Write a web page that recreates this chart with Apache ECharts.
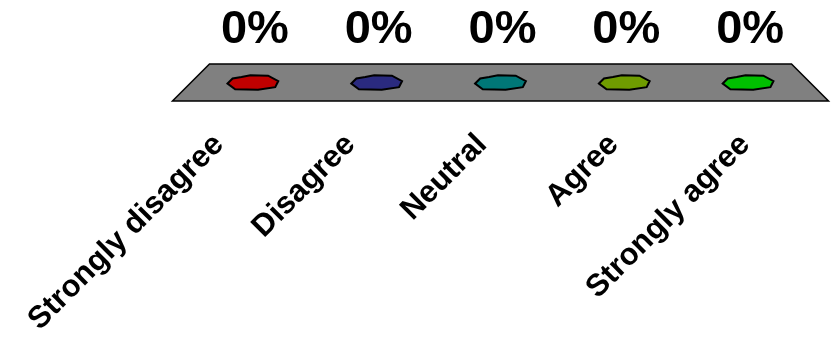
<!DOCTYPE html>
<html>
<head>
<meta charset="utf-8">
<style>
  html, body { margin: 0; padding: 0; background: #ffffff; }
  #chart { width: 834px; height: 338px; }
</style>
<script src="https://cdn.jsdelivr.net/npm/echarts@6/dist/echarts.min.js"></script>
</head>
<body>
<div id="chart"></div>
<script>
// Response categories and their share of answers (percent)
var categories = ['Strongly disagree', 'Disagree', 'Neutral', 'Agree', 'Strongly agree'];
var percentages = [0, 0, 0, 0, 0];
var barColors = ['#c00000', '#2a2a7f', '#007777', '#6f9c00', '#00c000'];

// Outline of a zero-height bar's cap, in units of its half-width / half-height
var capOutline = [
  [-1, 0.15], [-0.8, -0.55], [-0.45, -0.75], [-0.1, -1], [0.6, -0.95],
  [1, -0.2], [0.88, 0.65], [0.2, 1], [-0.7, 0.95]
];

var chart = echarts.init(document.getElementById('chart'), null, { renderer: 'canvas' });

var fontFamily = 'Arial, "Liberation Sans", Helvetica, sans-serif';

chart.setOption({
  backgroundColor: '#ffffff',
  animation: false,
  grid: [
    { left: 191, width: 619, top: 64, height: 37 },
    { left: 153, width: 658, top: 100, height: 33 }
  ],
  xAxis: [
    {
      type: 'category', gridIndex: 0, data: categories,
      axisLine: { show: false }, axisTick: { show: false }, axisLabel: { show: false },
      splitLine: { show: false }
    },
    {
      type: 'category', gridIndex: 1, data: categories,
      axisLine: { show: false }, axisTick: { show: false }, splitLine: { show: false },
      axisLabel: {
        interval: 0, rotate: 45, margin: 8,
        color: '#000000', fontFamily: fontFamily, fontWeight: 'bold', fontSize: 31
      }
    }
  ],
  yAxis: [
    { type: 'value', gridIndex: 0, min: -1, max: 1, show: false },
    { type: 'value', gridIndex: 1, min: 0, max: 1, show: false }
  ],
  series: [
    {
      // the gray floor of the 3-D plot area
      type: 'custom',
      xAxisIndex: 0, yAxisIndex: 0,
      data: [0],
      silent: true,
      z: 1,
      renderItem: function (params, api) {
        var cs = params.coordSys;
        var inset = cs.height * 0.5;
        return {
          type: 'polygon',
          shape: {
            points: [
              [cs.x + inset, cs.y],
              [cs.x + cs.width - inset, cs.y],
              [cs.x + cs.width + inset, cs.y + cs.height],
              [cs.x - inset, cs.y + cs.height]
            ]
          },
          style: { fill: '#808080', stroke: '#000000', lineWidth: 1.5 }
        };
      }
    },
    {
      // bars: at 0% only the flat cap on the floor remains, with its value above
      type: 'custom',
      xAxisIndex: 0, yAxisIndex: 0,
      data: percentages.map(function (v, i) { return [i, v]; }),
      z: 2,
      renderItem: function (params, api) {
        var idx = api.value(0);
        var base = api.coord([idx, 0]);
        var top = api.coord([idx, api.value(1)]);
        var band = api.size([1, 0])[0];
        var a = band * 0.205;
        var b = 7.2;
        var pts = capOutline.map(function (p) {
          return [top[0] + p[0] * a, top[1] + p[1] * b];
        });
        return {
          type: 'group',
          children: [
            {
              type: 'polygon',
              shape: { points: pts },
              style: { fill: barColors[idx], stroke: '#000000', lineWidth: 2 }
            },
            {
              type: 'text',
              style: {
                x: base[0] + 2,
                y: params.coordSys.y - 34,
                text: api.value(1) + '%',
                align: 'center',
                verticalAlign: 'middle',
                fill: '#000000',
                font: 'bold 47px ' + fontFamily
              }
            }
          ]
        };
      }
    }
  ]
});
</script>
</body>
</html>
